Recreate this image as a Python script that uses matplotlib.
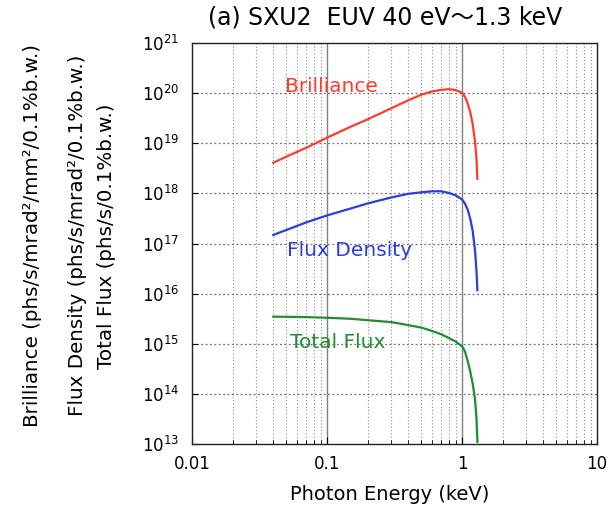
import matplotlib
matplotlib.use("Agg")
import matplotlib.pyplot as plt
from matplotlib.ticker import FixedLocator, FixedFormatter, NullFormatter

plt.rcParams['font.family'] = ['DejaVu Sans', 'Noto Sans CJK JP']

# Data (photon energy in keV)
energy = [0.04, 0.05, 0.07, 0.1, 0.15, 0.2, 0.3, 0.4, 0.5, 0.6, 0.7, 0.8, 0.9,
          1.0, 1.05, 1.1, 1.15, 1.2, 1.25, 1.28, 1.30]
brilliance = [4.07e18, 5.4e18, 8.1e18, 1.29e19, 2.14e19, 3.0e19, 5.0e19, 7.2e19,
              9.3e19, 1.08e20, 1.16e20, 1.20e20, 1.15e20, 1.02e20, 8.5e19, 6.3e19,
              4.2e19, 2.4e19, 1.05e19, 5.0e18, 1.95e18]
flux_density = [1.48e17, 1.86e17, 2.63e17, 3.63e17, 5.0e17, 6.3e17, 8.3e17, 9.8e17,
                1.05e18, 1.10e18, 1.10e18, 1.02e18, 9.1e17, 7.6e17, 6.3e17, 4.8e17,
                3.16e17, 1.78e17, 7.1e16, 2.8e16, 1.17e16]
total_flux = [3.47e15, 3.45e15, 3.4e15, 3.3e15, 3.15e15, 2.95e15, 2.7e15, 2.35e15,
              2.1e15, 1.8e15, 1.55e15, 1.3e15, 1.1e15, 8.9e14, 7.1e14, 4.6e14,
              2.8e14, 1.6e14, 7.6e13, 3.3e13, 1.1e13]

x_ticks = [0.01, 0.1, 1, 10]
x_ticklabels = ["0.01", "0.1", "1", "10"]
y_exponents = [13, 14, 15, 16, 17, 18, 19, 20, 21]

title = "(a) SXU2  EUV 40 eV～1.3 keV"
xlabel = "Photon Energy (keV)"
ylabels = ["Brilliance (phs/s/mrad²/mm²/0.1%b.w.)",
           "Flux Density (phs/s/mrad²/0.1%b.w.)",
           "Total Flux (phs/s/0.1%b.w.)"]

c_red = '#ff3a2e'
c_blue = '#2a3ddf'
c_green = '#1f8e2f'

fig = plt.figure(figsize=(6.10, 5.07), dpi=100)
ax = fig.add_axes([192/610, 1-444/507, (597-192)/610, (444-43)/507])
ax.set_xscale('log')
ax.set_yscale('log')
ax.set_xlim(0.01, 10)
ax.set_ylim(1e13, 1e21)

# grid
for xv in [0.1, 1]:
    ax.axvline(xv, color='#808080', lw=1.0, zorder=1)
minor_x = [m * 10.0**d for d in (-2, -1, 0) for m in range(2, 10)]
for xv in minor_x:
    ax.axvline(xv, color='#8a8a8a', lw=0.8, ls=(0, (1, 2)), zorder=1)
for e in y_exponents[1:-1]:
    ax.axhline(10.0**e, color='#707070', lw=0.9, ls=(0, (1.5, 2)), zorder=1)

ax.plot(energy, brilliance, color=c_red, lw=1.6, zorder=3)
ax.plot(energy, flux_density, color=c_blue, lw=1.6, zorder=3)
ax.plot(energy, total_flux, color=c_green, lw=1.6, zorder=3)

ax.text(0.049, 10**20.14, "Brilliance", color=c_red, fontsize=14.5, va='center', ha='left')
ax.text(0.0506, 10**16.86, "Flux Density", color=c_blue, fontsize=14.5, va='center', ha='left')
ax.text(0.053, 10**15.02, "Total Flux", color=c_green, fontsize=14.5, va='center', ha='left')

ax.xaxis.set_major_locator(FixedLocator(x_ticks))
ax.xaxis.set_major_formatter(FixedFormatter(x_ticklabels))
ax.xaxis.set_minor_locator(FixedLocator(minor_x))
ax.xaxis.set_minor_formatter(NullFormatter())
ax.yaxis.set_major_locator(FixedLocator([10.0**e for e in y_exponents]))
ax.yaxis.set_major_formatter(FixedFormatter([r"$\mathregular{10^{%d}}$" % e for e in y_exponents]))
ax.yaxis.set_minor_locator(FixedLocator([]))
ax.tick_params(axis='both', which='both', direction='in', labelsize=12, top=False, right=False)
ax.tick_params(axis='x', which='major', length=5, pad=8)
ax.tick_params(axis='x', which='minor', length=3)
ax.tick_params(axis='y', which='major', length=4, pad=9)
for s in ax.spines.values():
    s.set_linewidth(1.0)
    s.set_color('#222222')

fig.text(390/610, 1-494/507, xlabel, fontsize=14, ha='center', va='center')
fig.text(385/610, 1-18/507, title, fontsize=17, ha='center', va='center')

xs = [33/610, 78/610, 107/610]
for x, t in zip(xs, ylabels):
    fig.text(x, 0.535, t, rotation=90, ha='center', va='center', fontsize=14.3)

fig.savefig("out.png", dpi=100)
